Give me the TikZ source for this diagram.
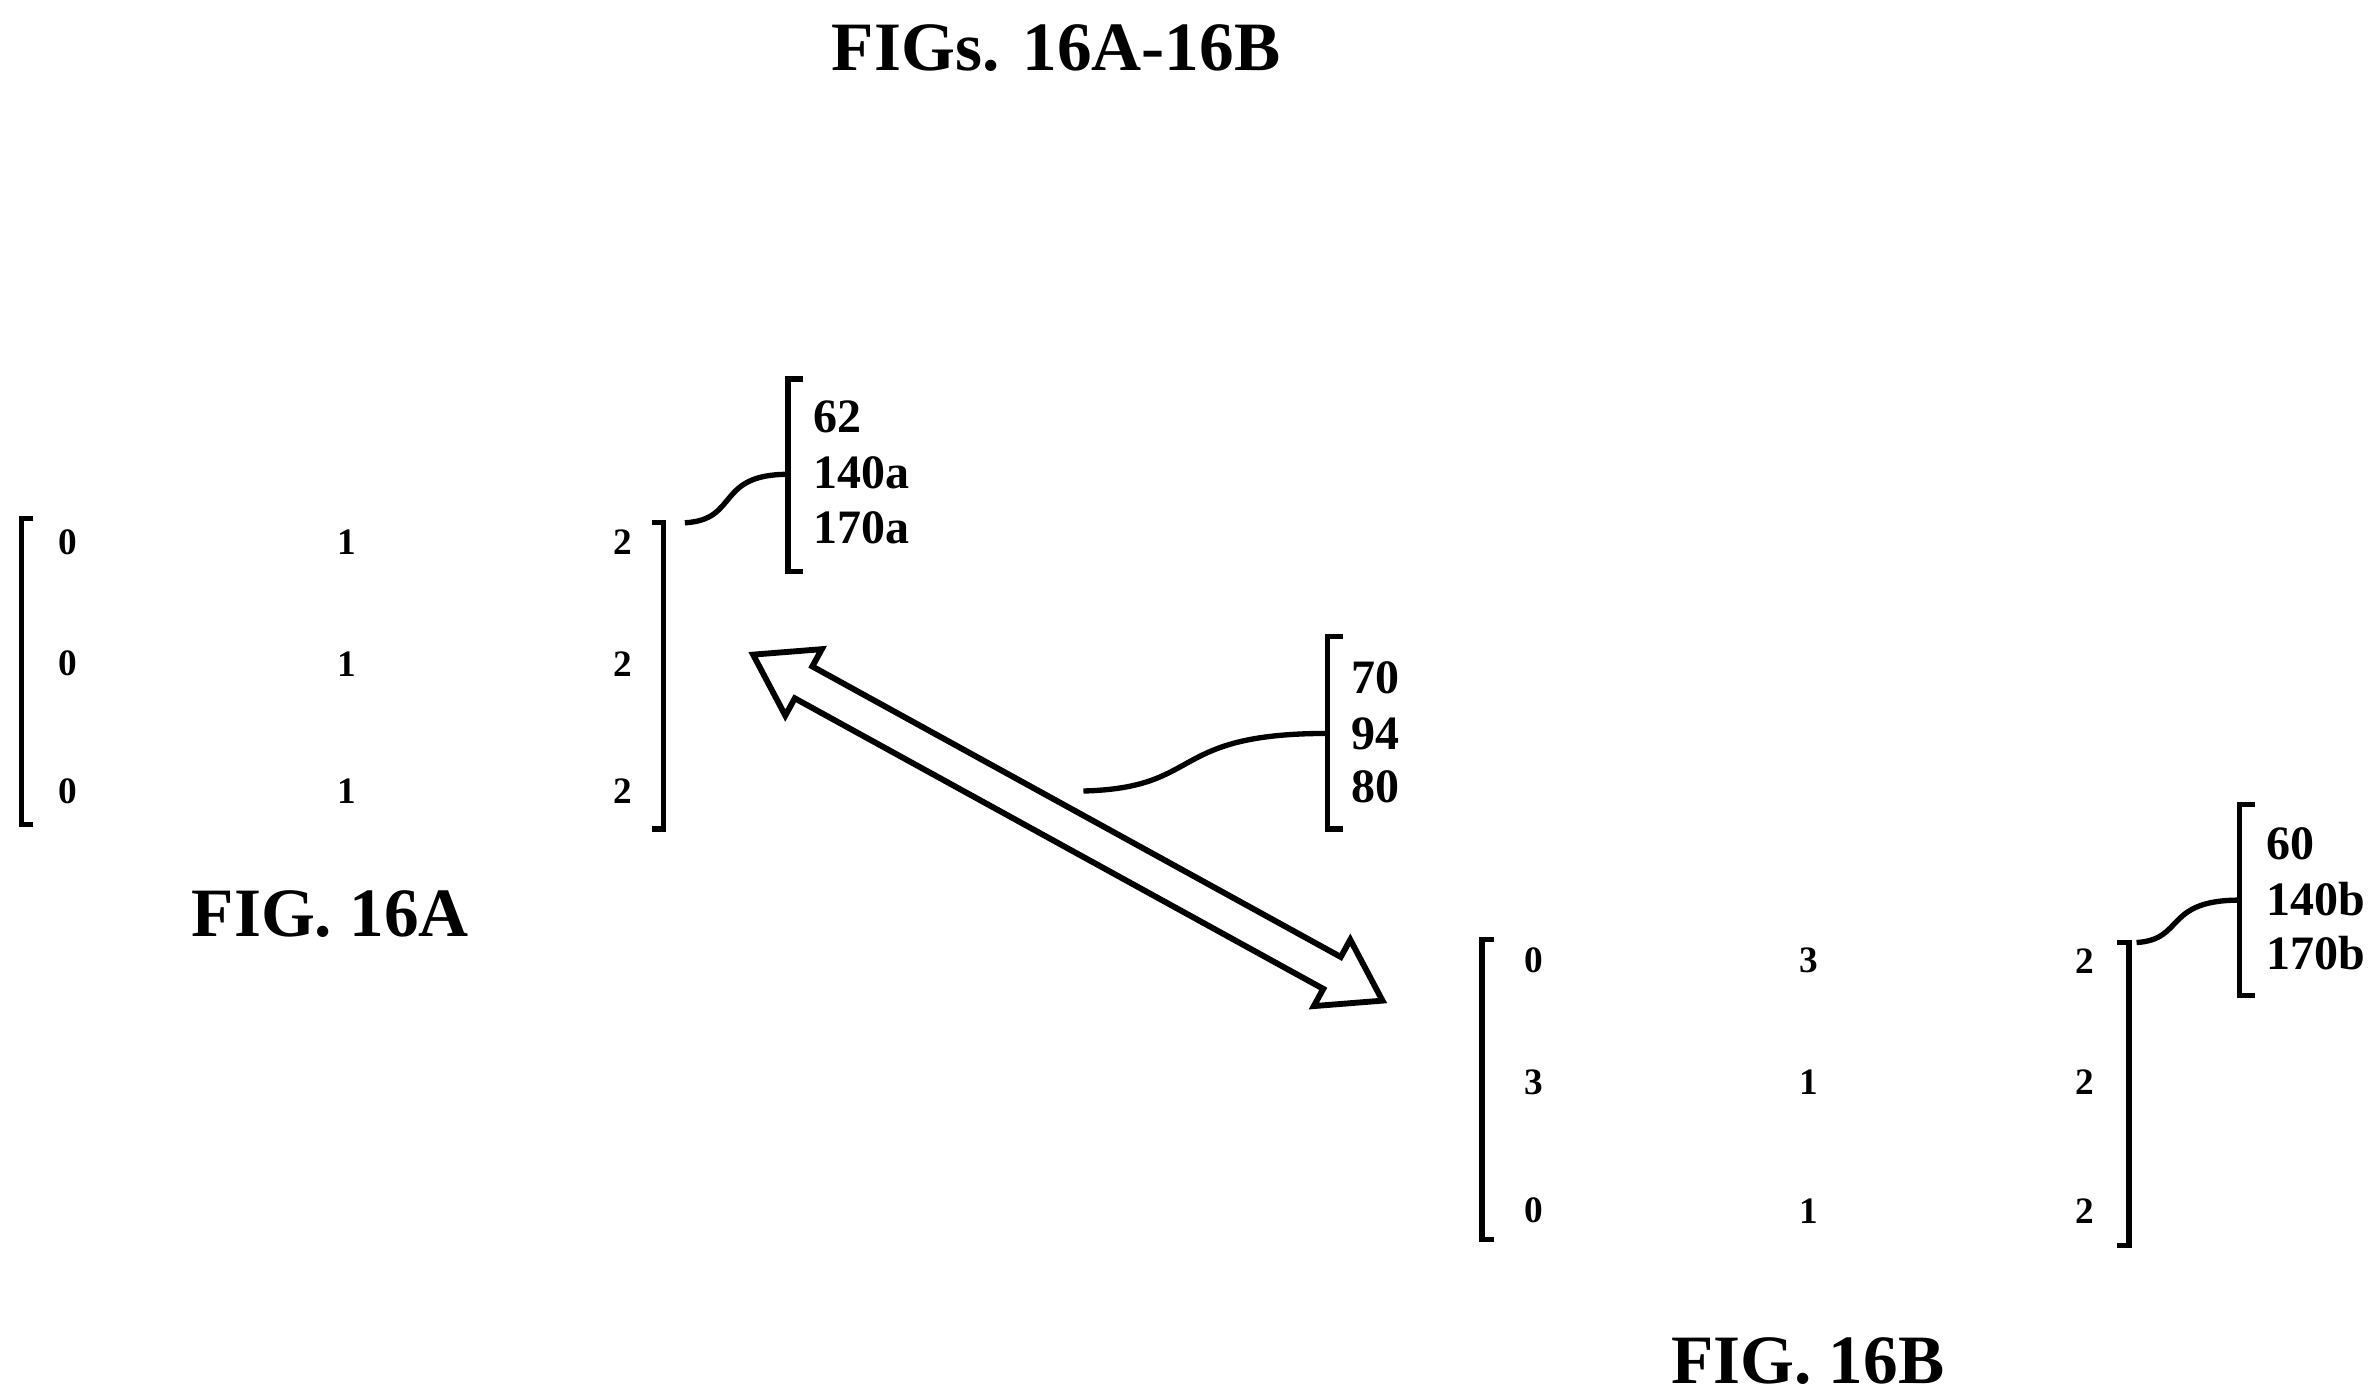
\documentclass[tikz,border=0pt]{standalone}
\usepackage{fontspec}
\setmainfont{Liberation Serif}
\begin{document}
\begin{tikzpicture}[x=0.01cm,y=-0.01cm,line width=1pt,
  ent/.style={font=\bfseries\fontsize{7}{8}\selectfont,inner sep=0pt},
  lab/.style={font=\bfseries\fontsize{9}{11}\selectfont,anchor=west,inner sep=0pt},
  figcap/.style={font=\bfseries\fontsize{13}{15}\selectfont,inner sep=0pt}]
\useasboundingbox (0,0) rectangle (1568,923);
\node[figcap] (title) at (697,32) {FIGs. 16A-16B};
% matrix A
\draw (22,342) -- (14,342) -- (14,544) -- (22,544);
\draw (430,345) -- (438,345) -- (438,547) -- (430,547);
\foreach \r/\y in {1/358,2/438,3/522}{
  \node[ent] (a\r1) at (45,\y) {0};
  \node[ent] (a\r2) at (229,\y) {1};
  \node[ent] (a\r3) at (411,\y) {2};}
\node[figcap] (figA) at (218,603) {FIG. 16A};
% label A
\draw (530,250) -- (520,250) -- (520,377) -- (530,377);
\coordinate (ba) at (520,313);
\coordinate (ma) at (452,345);
\draw (ma) .. controls (488,343) and (472,313) .. (ba);
\node[lab] (la1) at (535,275) {62};
\node[lab] (la2) at (535,312) {140a};
\node[lab] (la3) at (535,348) {170a};
% double arrow
\draw[shift={(497,432)},rotate=-28.8,line width=1.1pt]
  (0,0) -- (38,25) -- (38,12) -- (436,12) -- (436,25) -- (474,0) -- (436,-25) -- (436,-12) -- (38,-12) -- (38,-25) -- cycle;
% label arrow
\draw (886,420) -- (876,420) -- (876,547) -- (886,547);
\coordinate (bm) at (876,484);
\coordinate (am) at (715,522);
\draw (am) .. controls (795,520) and (770,484) .. (bm);
\node[lab] (lm1) at (890,447) {70};
\node[lab] (lm2) at (890,484) {94};
\node[lab] (lm3) at (890,519) {80};
% matrix B
\draw (986,620) -- (978,620) -- (978,818) -- (986,818);
\draw (1397,622) -- (1405,622) -- (1405,822) -- (1397,822);
\node[ent] (b11) at (1012,634) {0};\node[ent] (b12) at (1194,634) {3};\node[ent] (b13) at (1376,634) {2};
\node[ent] (b21) at (1012,714) {3};\node[ent] (b22) at (1194,714) {1};\node[ent] (b23) at (1376,714) {2};
\node[ent] (b31) at (1012,799) {0};\node[ent] (b32) at (1194,799) {1};\node[ent] (b33) at (1376,799) {2};
\node[figcap] (figB) at (1193,898) {FIG. 16B};
% label B
\draw (1488,531) -- (1478,531) -- (1478,657) -- (1488,657);
\coordinate (bb) at (1478,594);
\coordinate (mb) at (1410,622);
\draw (mb) .. controls (1442,620) and (1428,594) .. (bb);
\node[lab] (lb1) at (1494,557) {60};
\node[lab] (lb2) at (1494,593) {140b};
\node[lab] (lb3) at (1494,629) {170b};
\end{tikzpicture}
\end{document}
